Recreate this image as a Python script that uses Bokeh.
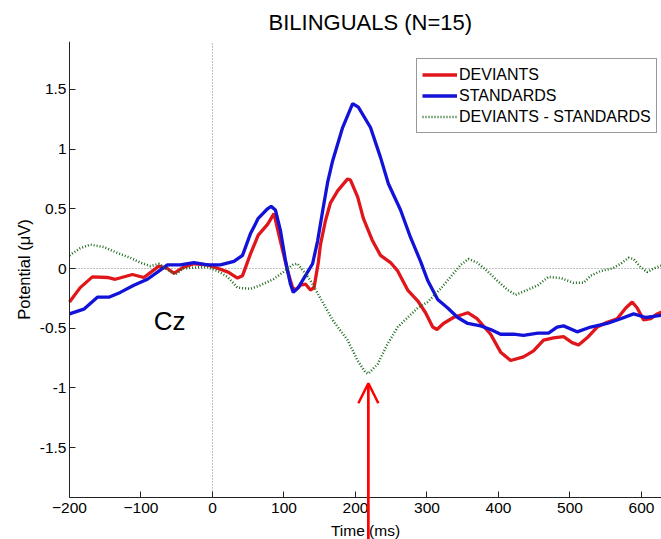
from bokeh.plotting import figure
from bokeh.models import Range1d, Label, Arrow, OpenHead, Legend, LegendItem, FixedTicker
from bokeh.embed import file_html
from bokeh.resources import INLINE

# Grand-average ERPs at Cz, time in ms and potential in microvolts
dev_t = [-200, -185, -168, -147, -136, -112, -96, -75, -63, -54, -41, -26, -7, 8, 22, 35, 42,
         53, 64, 77, 86, 95, 105, 112, 116, 123, 130, 137, 142, 148, 151, 158, 165, 175, 189,
         193, 203, 211, 224, 235, 249, 259, 273, 287, 298, 308, 314, 323, 337, 357, 370, 389,
         403, 417, 435, 449, 463, 477, 491, 503, 512, 524, 538, 552, 566, 578, 587, 594, 603,
         613, 622, 630]
dev_v = [-0.28, -0.16, -0.07, -0.075, -0.09, -0.05, -0.075, 0.02, 0.0, -0.04, 0.01, 0.04, 0.03,
         0.0, -0.03, -0.08, -0.06, 0.12, 0.28, 0.37, 0.46, 0.23, -0.02, -0.16, -0.18, -0.14,
         -0.13, -0.18, -0.16, 0.05, 0.2, 0.4, 0.55, 0.65, 0.75, 0.74, 0.6, 0.42, 0.23, 0.11,
         0.05, -0.02, -0.18, -0.27, -0.37, -0.49, -0.51, -0.46, -0.41, -0.37, -0.42, -0.55,
         -0.7, -0.77, -0.74, -0.69, -0.6, -0.58, -0.57, -0.62, -0.64, -0.58, -0.49, -0.45,
         -0.42, -0.33, -0.28, -0.33, -0.43, -0.42, -0.38, -0.36]

std_t = [-200, -180, -161, -145, -129, -110, -91, -77, -63, -45, -26, -7, 11, 30, 42, 53, 64,
         77, 82, 88, 95, 102, 109, 113, 120, 130, 140, 147, 154, 161, 168, 182, 196, 204, 221,
         235, 246, 263, 277, 291, 301, 315, 329, 343, 357, 375, 389, 403, 421, 435, 455, 470,
         482, 491, 510, 529, 552, 571, 589, 606, 617, 630]
std_v = [-0.38, -0.34, -0.24, -0.24, -0.2, -0.14, -0.09, -0.03, 0.03, 0.03, 0.05, 0.03, 0.03,
         0.06, 0.11, 0.29, 0.42, 0.5, 0.52, 0.49, 0.32, 0.07, -0.13, -0.2, -0.16, -0.06, 0.04,
         0.23, 0.48, 0.72, 0.9, 1.18, 1.38, 1.35, 1.18, 0.93, 0.71, 0.49, 0.26, 0.06, -0.1,
         -0.26, -0.33, -0.41, -0.46, -0.48, -0.51, -0.55, -0.55, -0.56, -0.54, -0.54, -0.49,
         -0.48, -0.53, -0.49, -0.46, -0.42, -0.38, -0.41, -0.4, -0.39]

diff_t = [-200, -185, -171, -152, -133, -115, -101, -87, -75, -63, -52, -41, -21, -7, 7, 21,
          35, 53, 67, 85, 99, 112, 119, 127, 137, 151, 169, 189, 203, 214, 218, 231, 245, 259,
          273, 287, 301, 319, 333, 347, 358, 370, 384, 398, 413, 424, 440, 455, 470, 487, 505,
          519, 529, 543, 559, 571, 582, 589, 599, 608, 617, 630]
diff_v = [0.11, 0.17, 0.2, 0.18, 0.13, 0.09, 0.05, 0.02, 0.04, -0.01, -0.05, 0.0, 0.01, 0.01,
          -0.02, -0.07, -0.16, -0.17, -0.14, -0.09, -0.03, 0.03, 0.04, -0.02, -0.1, -0.25,
          -0.44, -0.6, -0.77, -0.87, -0.88, -0.8, -0.63, -0.49, -0.41, -0.33, -0.28, -0.17,
          -0.07, 0.03, 0.08, 0.05, -0.02, -0.1, -0.18, -0.22, -0.18, -0.14, -0.07, -0.08,
          -0.12, -0.12, -0.06, -0.02, 0.0, 0.04, 0.09, 0.08, 0.01, -0.03, 0.0, 0.03]

x_ticks = [-200, -100, 0, 100, 200, 300, 400, 500, 600]
y_ticks = [-1.5, -1, -0.5, 0, 0.5, 1, 1.5]
y_tick_labels = ["-1.5", "-1", "-0.5", "0", "0.5", "1", "1.5"]

# axes limits; the canvas extends past them on the left and bottom for the axis text
X_LO, X_HI = -200, 628
Y_LO, Y_HI = -1.916, 1.9
X_CANVAS_LO = -296.5
Y_CANVAS_LO = -2.268

FONT = "Liberation Sans"
RED = "#e0161b"
BLUE = "#1212d8"
GREEN = "#1c6a1c"

p = figure(width=661, height=539, x_range=Range1d(X_CANVAS_LO, X_HI),
           y_range=Range1d(Y_CANVAS_LO, Y_HI),
           output_backend="svg", toolbar_location=None, title="BILINGUALS (N=15)",
           min_border_left=0, min_border_right=0, min_border_top=41, min_border_bottom=0)
p.outline_line_color = None
p.grid.visible = False
p.background_fill_color = "white"
p.border_fill_color = "white"

p.title.text_font = FONT
p.title.text_font_size = "22px"
p.title.text_font_style = "normal"
p.title.align = "left"
p.title.offset = 268
p.title.standoff = 14
p.title.text_color = "black"

# zero reference lines
p.segment(x0=[0], y0=[Y_LO], x1=[0], y1=[Y_HI], line_color="#808080",
          line_dash="1 2", line_width=1, level="underlay")
p.segment(x0=[X_LO], y0=[0], x1=[X_HI], y1=[0], line_color="#808080",
          line_dash="1 2", line_width=1, level="underlay")

r_dev = p.line(dev_t, dev_v, line_color=RED, line_width=3.3)
r_std = p.line(std_t, std_v, line_color=BLUE, line_width=3.3)
r_diff = p.line(diff_t, diff_v, line_color=GREEN, line_width=2.5, line_dash="1 2")

for ax in (p.xaxis[0], p.yaxis[0]):
    ax.axis_line_color = "#222222"
    ax.major_tick_line_color = "#222222"
    ax.major_tick_in = 6
    ax.major_tick_out = 0
    ax.minor_tick_in = 0
    ax.minor_tick_out = 0
    ax.major_label_text_font = FONT
    ax.major_label_text_font_size = "15.5px"
    ax.major_label_text_color = "black"
    ax.axis_label_text_font = FONT
    ax.axis_label_text_font_style = "normal"
    ax.axis_label_text_color = "black"

p.xaxis.fixed_location = Y_LO
p.xaxis.bounds = (X_LO, X_HI)
p.xaxis.ticker = FixedTicker(ticks=x_ticks)
p.xaxis.major_label_standoff = 6
p.xaxis.axis_label = "Time (ms)"
p.xaxis.axis_label_text_font_size = "15.5px"
p.xaxis.axis_label_standoff = 5

p.yaxis.fixed_location = X_LO
p.yaxis.bounds = (Y_LO, Y_HI)
p.yaxis.ticker = FixedTicker(ticks=y_ticks)
p.yaxis.major_label_overrides = {t: s for t, s in zip(y_ticks, y_tick_labels)}
p.yaxis.major_label_standoff = 3
p.yaxis.axis_label = "Potential (\u03bcV)"
p.yaxis.axis_label_text_font_size = "16.5px"
p.yaxis.axis_label_standoff = 4

p.add_layout(Label(x=-60, y=-0.44, text="Cz", text_font=FONT, text_font_size="26px",
                   text_align="center", text_baseline="middle", text_color="black"))

# arrow pointing up at the trough of the difference wave, rising from the bottom edge
i_min = diff_v.index(min(diff_v))
arrow_x = diff_t[i_min]
arrow_tip = diff_v[i_min] - 0.08
p.add_layout(Arrow(end=OpenHead(size=20, line_color="red", line_width=2.5),
                   x_start=arrow_x, y_start=Y_CANVAS_LO - 0.1, x_end=arrow_x, y_end=arrow_tip,
                   line_color="red", line_width=2.7))

legend = Legend(items=[LegendItem(label="DEVIANTS", renderers=[r_dev]),
                       LegendItem(label="STANDARDS", renderers=[r_std]),
                       LegendItem(label="DEVIANTS - STANDARDS", renderers=[r_diff])],
                location=(416, 406))
legend.border_line_color = "#333333"
legend.border_line_width = 1
legend.background_fill_color = "white"
legend.background_fill_alpha = 1
legend.label_text_font = FONT
legend.label_text_font_size = "16px"
legend.label_text_color = "black"
legend.glyph_width = 35
legend.glyph_height = 21
legend.label_height = 21
legend.spacing = 0
legend.padding = 5
legend.margin = 0
legend.label_standoff = 2
p.add_layout(legend)

open("out.html", "w").write(file_html(p, INLINE))
